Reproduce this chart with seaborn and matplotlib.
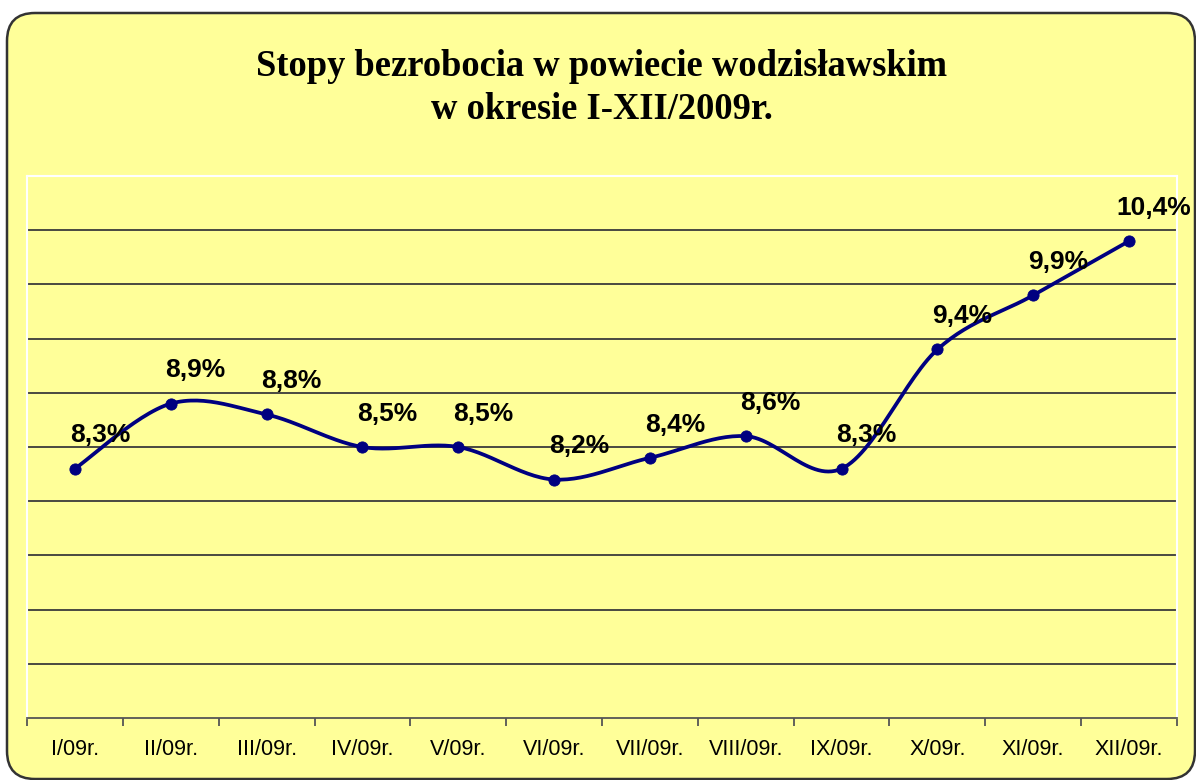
import numpy as np
import pandas as pd
import matplotlib
matplotlib.use('Agg')
import matplotlib.pyplot as plt
from matplotlib.patches import FancyBboxPatch
import seaborn as sns

# data
months = ['I/09r.', 'II/09r.', 'III/09r.', 'IV/09r.', 'V/09r.', 'VI/09r.',
          'VII/09r.', 'VIII/09r.', 'IX/09r.', 'X/09r.', 'XI/09r.', 'XII/09r.']
rates = [8.3, 8.9, 8.8, 8.5, 8.5, 8.2, 8.4, 8.6, 8.3, 9.4, 9.9, 10.4]
labels = ['8,3%', '8,9%', '8,8%', '8,5%', '8,5%', '8,2%',
          '8,4%', '8,6%', '8,3%', '9,4%', '9,9%', '10,4%']

sns.set_style('white')
plt.rcParams['font.family'] = ['Liberation Sans', 'DejaVu Sans']
plt.rcParams['text.color'] = 'black'
plt.rcParams['xtick.color'] = 'black'

bg = '#FFFF99'
navy = '#000080'

fig = plt.figure(figsize=(11.96, 7.8), dpi=100)
fig.patch.set_facecolor('white')

# rounded chart area
box = FancyBboxPatch((0.07, 0.01), 11.88, 7.66,
                     boxstyle='round,pad=0,rounding_size=0.28',
                     transform=fig.dpi_scale_trans, facecolor=bg,
                     edgecolor='#333333', linewidth=1.8, zorder=-5)
fig.patches.append(box)

ax = fig.add_axes([27 / 1196, 62 / 780, 1150 / 1196, 542 / 780])
ax.set_zorder(2)
ax.set_facecolor(bg)

# smoothed line like Excel (bezier through points)
x = np.arange(len(rates), dtype=float)
y = np.array(rates)
sx, sy = [], []
for i in range(len(x) - 1):
    p0 = np.array([x[max(i - 1, 0)], y[max(i - 1, 0)]])
    p1 = np.array([x[i], y[i]])
    p2 = np.array([x[i + 1], y[i + 1]])
    p3 = np.array([x[min(i + 2, len(x) - 1)], y[min(i + 2, len(x) - 1)]])
    c1 = p1 + (p2 - p0) / 6
    c2 = p2 - (p3 - p1) / 6
    t = np.linspace(0, 1, 30)[:, None]
    seg = (1 - t) ** 3 * p1 + 3 * (1 - t) ** 2 * t * c1 + 3 * (1 - t) * t ** 2 * c2 + t ** 3 * p2
    if i > 0:
        seg = seg[1:]
    sx.extend(seg[:, 0])
    sy.extend(seg[:, 1])

curve = pd.DataFrame({'x': sx, 'y': sy})
pts = pd.DataFrame({'x': x, 'y': y})

sns.lineplot(data=curve, x='x', y='y', ax=ax, sort=False, estimator=None,
             color=navy, linewidth=2.7)
sns.scatterplot(data=pts, x='x', y='y', ax=ax, color=navy, s=65,
                edgecolor=navy, zorder=5)

for xi, yi, lab in zip(x, y, labels):
    ax.annotate(lab, (xi, yi), xytext=(18, 24), textcoords='offset points',
                ha='center', va='center', fontsize=19, fontweight='bold',
                color='black', zorder=6)

ax.set_xlim(-0.5, 11.5)
ax.set_ylim(6.0, 11.0)
ax.set_xlabel('')
ax.set_ylabel('')

ax.set_yticks(np.arange(6.5, 10.51, 0.5))
ax.yaxis.grid(True, color='#3a3a3a', linewidth=1.3)
ax.tick_params(axis='y', length=0, labelleft=False)

ax.set_xticks(x)
ax.set_xticklabels(months, fontsize=15.5)
ax.set_xticks(np.arange(-0.5, 11.6, 1), minor=True)
ax.tick_params(axis='x', which='major', length=0, pad=15)
ax.tick_params(axis='x', which='minor', bottom=True, length=6, width=1.3,
               color='#555555', direction='out')

for side in ['top', 'left', 'right']:
    ax.spines[side].set_color('white')
    ax.spines[side].set_linewidth(1.5)
ax.spines['bottom'].set_color('#555555')
ax.spines['bottom'].set_linewidth(1.3)

fig.text(0.503, 1 - 88 / 780,
         'Stopy bezrobocia w powiecie wodzisławskim\nw okresie I-XII/2009r.',
         ha='center', va='center', fontsize=26.3, fontweight='bold',
         family=['Liberation Serif', 'DejaVu Serif'], linespacing=1.27)

fig.savefig('out.png', dpi=100, facecolor='white')
